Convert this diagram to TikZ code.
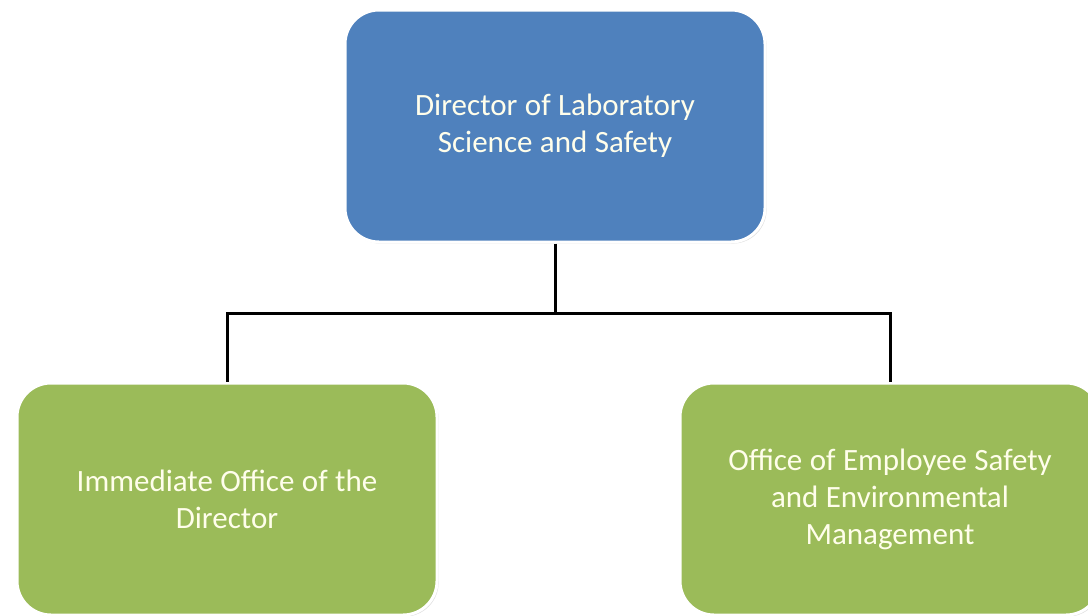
\documentclass[tikz,border=0pt]{standalone}
\usepackage{fontspec}
\setmainfont{Carlito}
\usetikzlibrary{shadows}
\definecolor{dirblue}{HTML}{4F81BD}
\definecolor{officegreen}{HTML}{9BBB59}
\newcommand{\unitfont}{\fontsize{15.5}{18.5}\selectfont\spaceskip=0.24em\relax}
\begin{document}
\begin{tikzpicture}[x=0.5pt,y=-0.5pt]
	\tikzstyle{unit} = [draw=white, line width=1.5pt, rounded corners=17pt, minimum width=210pt, minimum height=116pt, align=center, text=white!92!yellow, font=\unitfont, drop shadow={opacity=0.25, shadow xshift=0.8pt, shadow yshift=-0.8pt}]
	\tikzstyle{link} = [black, line width=1.5pt]
	\useasboundingbox (0,0) rectangle (1088,616);
	\node[unit, fill=dirblue] (dir) at (555,126) {Director of Laboratory\\Science and Safety};
	\node[unit, fill=officegreen] (imm) at (227,499) {Immediate Office of the\\Director};
	\node[unit, fill=officegreen] (esm) at (890,499) {Office of Employee Safety\\and Environmental\\Management};
	\coordinate (bus) at (555,313);
	\draw[link] (dir.south) -- (bus);
	\draw[link] (imm.north) |- (bus) -| (esm.north);
\end{tikzpicture}
\end{document}
